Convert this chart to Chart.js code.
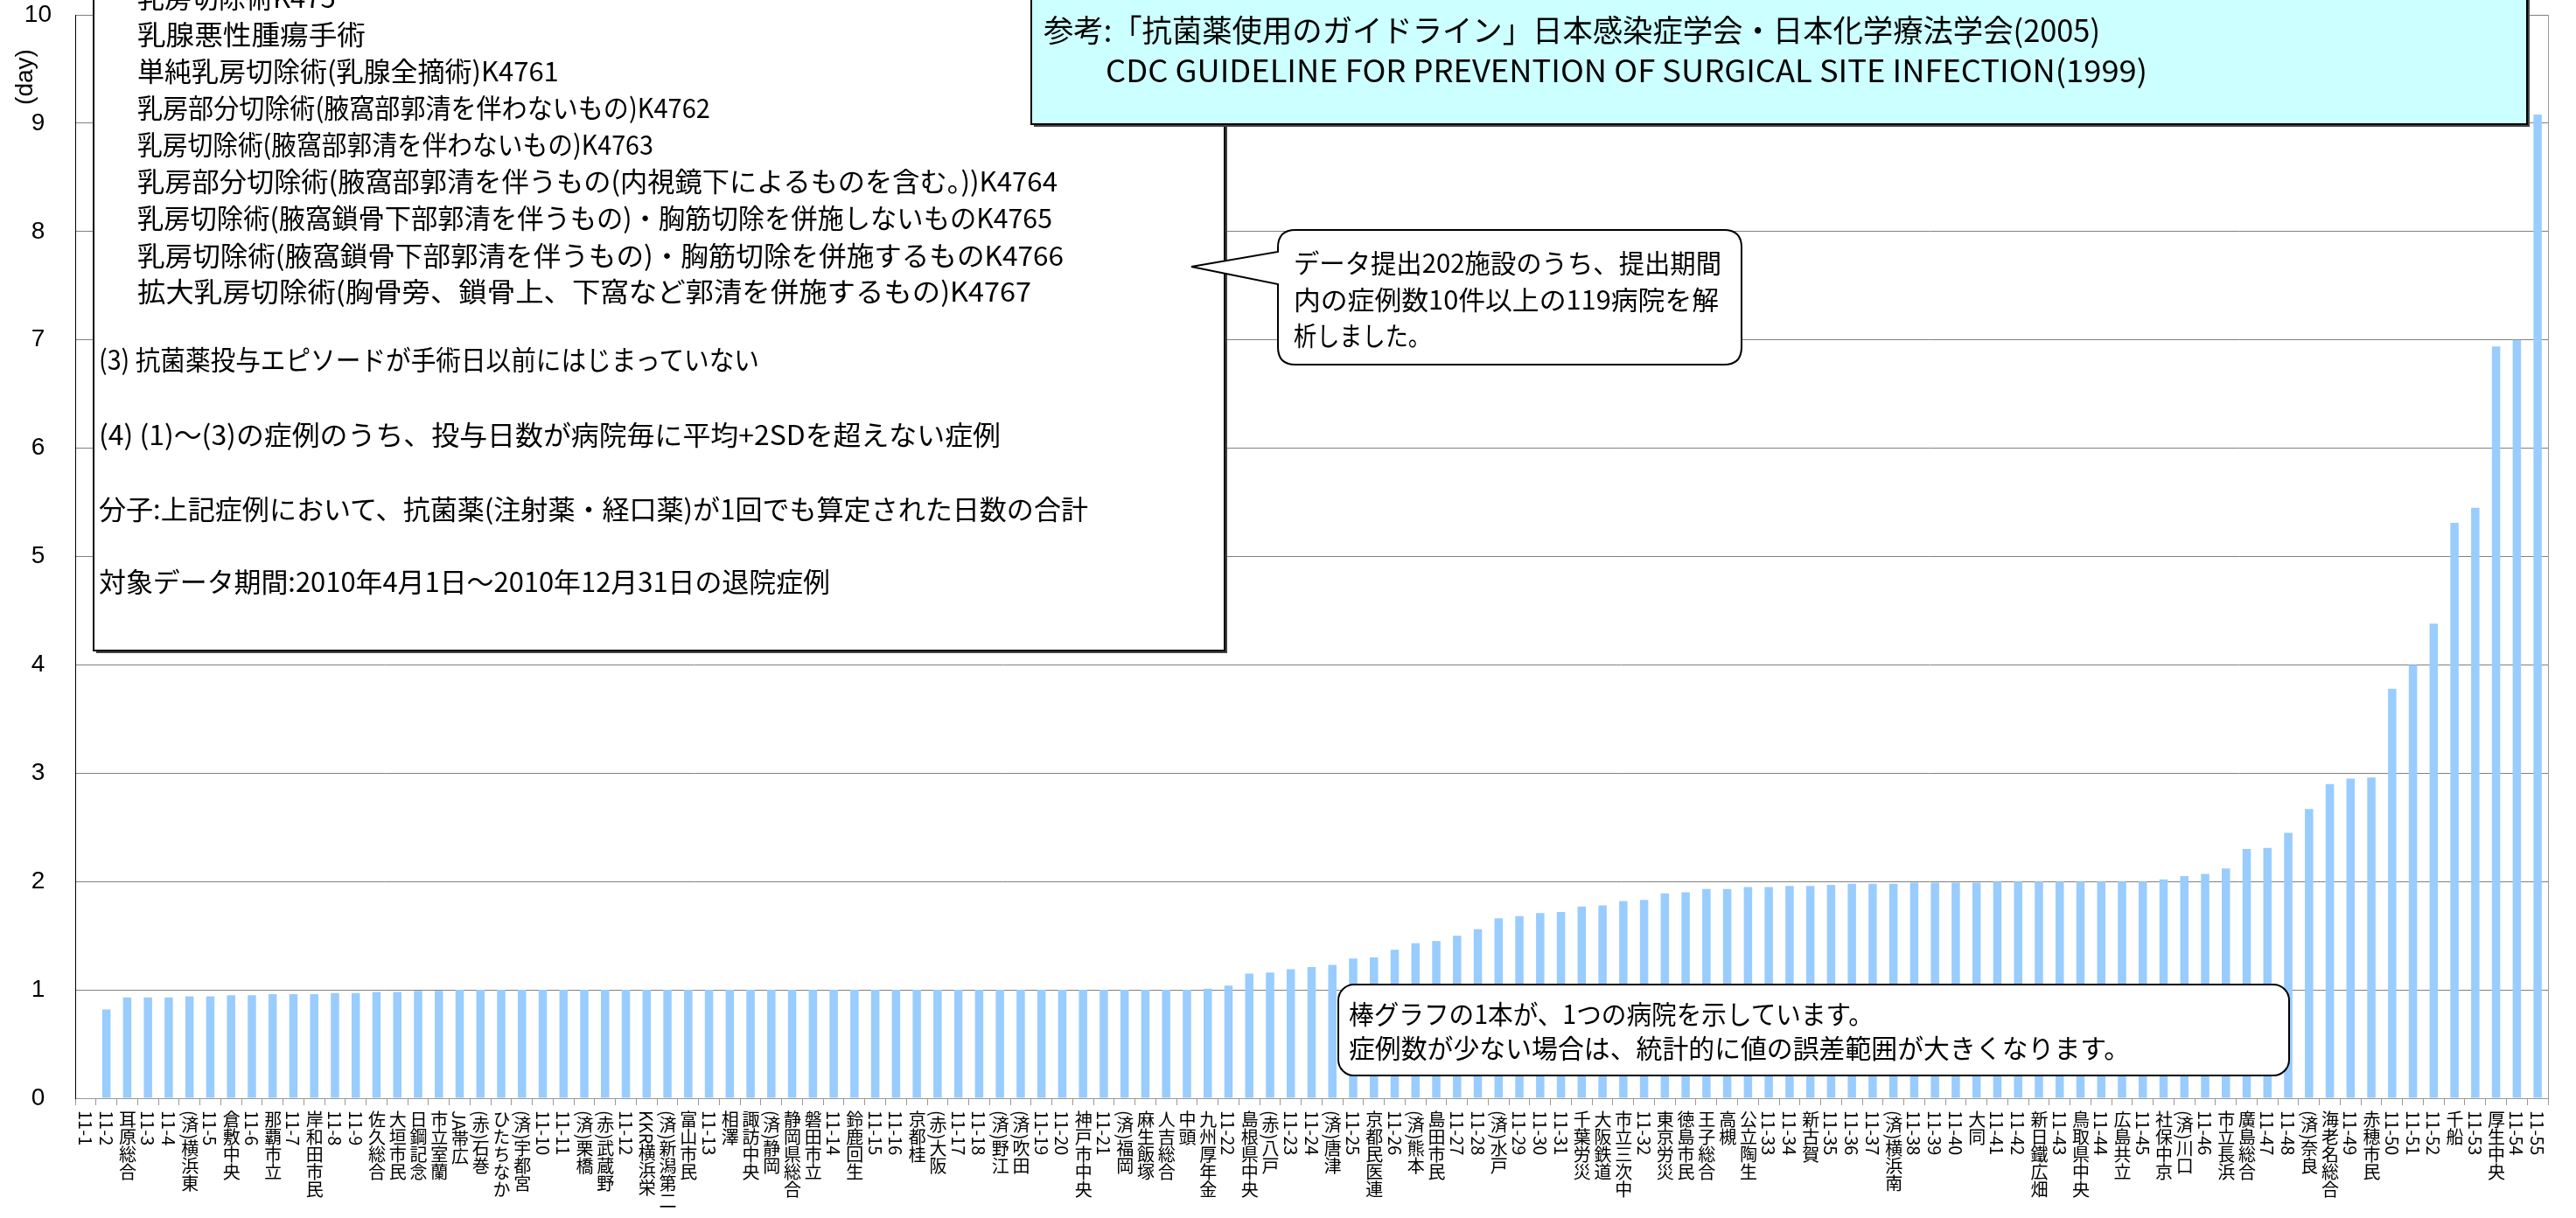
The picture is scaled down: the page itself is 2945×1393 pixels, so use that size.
<!DOCTYPE html>
<html><head><meta charset="utf-8">
<script src="https://cdn.jsdelivr.net/npm/chart.js@4.4.1/dist/chart.umd.min.js"></script>
<style>
html,body{margin:0;padding:0;background:#fff;}
#wrap{position:relative;width:2945px;height:1393px;overflow:hidden;background:#fff;}
#c{position:absolute;left:0;top:0;}
#ov{position:absolute;left:0;top:0;}
.xl{position:absolute;writing-mode:vertical-rl;text-orientation:mixed;font-family:"Noto Sans CJK JP";font-size:20px;line-height:24px;width:24px;color:#000;white-space:nowrap;}
.t{font-family:"Noto Sans CJK JP";fill:#000;}
</style></head><body>
<div id="wrap">
<canvas id="c" width="2945" height="1393"></canvas>
<svg id="ov" width="2945" height="1393" xmlns="http://www.w3.org/2000/svg">
  <!-- y axis title -->
  <text transform="translate(27,88) rotate(-90)" text-anchor="middle" dominant-baseline="central" font-family="Liberation Sans" font-size="28" fill="#000">(day)</text>

  <!-- left definition box -->
  <rect x="110" y="-37" width="1293" height="784" fill="#444"/>
  <rect x="107" y="-40" width="1293" height="784" fill="#fff" stroke="#000" stroke-width="2"/>
  <g font-size="31">
    <text class="t" x="157" y="-5" dominant-baseline="central">乳房切除術K475</text>
    <text class="t" x="157" y="37" dominant-baseline="central" textLength="261" lengthAdjust="spacingAndGlyphs">乳腺悪性腫瘍手術</text>
    <text class="t" x="157" y="79" dominant-baseline="central">単純乳房切除術(乳腺全摘術)K4761</text>
    <text class="t" x="157" y="121" dominant-baseline="central" textLength="655" lengthAdjust="spacingAndGlyphs">乳房部分切除術(腋窩部郭清を伴わないもの)K4762</text>
    <text class="t" x="157" y="163" dominant-baseline="central" textLength="590" lengthAdjust="spacingAndGlyphs">乳房切除術(腋窩部郭清を伴わないもの)K4763</text>
    <text class="t" x="157" y="205" dominant-baseline="central" textLength="1052" lengthAdjust="spacingAndGlyphs">乳房部分切除術(腋窩部郭清を伴うもの(内視鏡下によるものを含む。))K4764</text>
    <text class="t" x="157" y="247" dominant-baseline="central" textLength="1046" lengthAdjust="spacingAndGlyphs">乳房切除術(腋窩鎖骨下部郭清を伴うもの)・胸筋切除を併施しないものK4765</text>
    <text class="t" x="157" y="290" dominant-baseline="central" textLength="1059" lengthAdjust="spacingAndGlyphs">乳房切除術(腋窩鎖骨下部郭清を伴うもの)・胸筋切除を併施するものK4766</text>
    <text class="t" x="157" y="331" dominant-baseline="central" textLength="1022" lengthAdjust="spacingAndGlyphs">拡大乳房切除術(胸骨旁、鎖骨上、下窩など郭清を併施するもの)K4767</text>
    <text class="t" x="113" y="409" dominant-baseline="central" textLength="755" lengthAdjust="spacingAndGlyphs">(3) 抗菌薬投与エピソードが手術日以前にはじまっていない</text>
    <text class="t" x="113" y="495" dominant-baseline="central" textLength="1031" lengthAdjust="spacingAndGlyphs">(4) (1)～(3)の症例のうち、投与日数が病院毎に平均+2SDを超えない症例</text>
    <text class="t" x="113" y="580" dominant-baseline="central" textLength="1131" lengthAdjust="spacingAndGlyphs">分子:上記症例において、抗菌薬(注射薬・経口薬)が1回でも算定された日数の合計</text>
    <text class="t" x="113" y="663" dominant-baseline="central" textLength="836" lengthAdjust="spacingAndGlyphs">対象データ期間:2010年4月1日～2010年12月31日の退院症例</text>
  </g>

  <!-- reference box -->
  <rect x="1182" y="-7" width="1710" height="152" fill="#444"/>
  <rect x="1179" y="-10" width="1710" height="152" fill="#CCFFFF" stroke="#000" stroke-width="2"/>
  <text class="t" x="1193" y="32" font-size="35" dominant-baseline="central" textLength="1208" lengthAdjust="spacingAndGlyphs">参考:「抗菌薬使用のガイドライン」日本感染症学会・日本化学療法学会(2005)</text>
  <text class="t" x="1264" y="78" font-size="35" dominant-baseline="central" textLength="1191" lengthAdjust="spacingAndGlyphs">CDC GUIDELINE FOR PREVENTION OF SURGICAL SITE INFECTION(1999)</text>

  <!-- callout 1 -->
  <path d="M1481 263 H1971 Q1991 263 1991 283 V397 Q1991 417 1971 417 H1481 Q1461 417 1461 397 V325 L1362 305 L1461 288 V283 Q1461 263 1481 263 Z" fill="#fff" stroke="#000" stroke-width="2"/>
  <text class="t" x="1479" y="299" font-size="30" dominant-baseline="central" textLength="489" lengthAdjust="spacingAndGlyphs">データ提出202施設のうち、提出期間</text>
  <text class="t" x="1479" y="341" font-size="30" dominant-baseline="central" textLength="486" lengthAdjust="spacingAndGlyphs">内の症例数10件以上の119病院を解</text>
  <text class="t" x="1479" y="382" font-size="30" dominant-baseline="central" textLength="157" lengthAdjust="spacingAndGlyphs">析しました。</text>

  <!-- callout 2 -->
  <rect x="1530" y="1126" width="1087" height="104" rx="18" ry="18" fill="#fff" stroke="#000" stroke-width="2"/>
  <text class="t" x="1542" y="1158" font-size="30" dominant-baseline="central" textLength="600" lengthAdjust="spacingAndGlyphs">棒グラフの1本が、1つの病院を示しています。</text>
  <text class="t" x="1542" y="1197" font-size="30" dominant-baseline="central" textLength="893" lengthAdjust="spacingAndGlyphs">症例数が少ない場合は、統計的に値の誤差範囲が大きくなります。</text>
</svg>
<div id="xlabels"></div>
</div>
<script>
const categories = [
 "11-1","11-2","耳原総合","11-3","11-4","(済)横浜東","11-5","倉敷中央","11-6","那覇市立",
 "11-7","岸和田市民","11-8","11-9","佐久総合","大垣市民","日鋼記念","市立室蘭","JA帯広","(赤)石巻",
 "ひたちなか","(済)宇都宮","11-10","11-11","(済)栗橋","(赤)武蔵野","11-12","KKR横浜栄","(済)新潟第二","富山市民",
 "11-13","相澤","諏訪中央","(済)静岡","静岡県総合","磐田市立","11-14","鈴鹿回生","11-15","11-16",
 "京都桂","(赤)大阪","11-17","11-18","(済)野江","(済)吹田","11-19","11-20","神戸市中央","11-21",
 "(済)福岡","麻生飯塚","人吉総合","中頭","九州厚年金","11-22","島根県中央","(赤)八戸","11-23","11-24",
 "(済)唐津","11-25","京都民医連","11-26","(済)熊本","島田市民","11-27","11-28","(済)水戸","11-29",
 "11-30","11-31","千葉労災","大阪鉄道","市立三次中","11-32","東京労災","徳島市民","王子総合","高槻",
 "公立陶生","11-33","11-34","新古賀","11-35","11-36","11-37","(済)横浜南","11-38","11-39",
 "11-40","大同","11-41","11-42","新日鐵広畑","11-43","鳥取県中央","11-44","広島共立","11-45",
 "社保中京","(済)川口","11-46","市立長浜","廣島総合","11-47","11-48","(済)奈良","海老名総合","11-49",
 "赤穂市民","11-50","11-51","11-52","千船","11-53","厚生中央","11-54","11-55"
];
const days = [
 0, 0.82, 0.93, 0.93, 0.93, 0.94, 0.94, 0.95, 0.95, 0.96,
 0.96, 0.96, 0.97, 0.97, 0.98, 0.98, 0.99, 0.99, 1.00, 1.00,
 1.00, 1.00, 1.00, 1.00, 1.00, 1.00, 1.00, 1.00, 1.00, 1.00,
 1.00, 1.00, 1.00, 1.00, 1.00, 1.00, 1.00, 1.00, 1.00, 1.00,
 1.00, 1.00, 1.00, 1.00, 1.00, 1.00, 1.00, 1.00, 1.00, 1.00,
 1.00, 1.00, 1.00, 1.00, 1.01, 1.04, 1.15, 1.16, 1.19, 1.21,
 1.23, 1.29, 1.30, 1.37, 1.43, 1.45, 1.50, 1.56, 1.66, 1.68,
 1.71, 1.72, 1.77, 1.78, 1.82, 1.83, 1.89, 1.90, 1.93, 1.93,
 1.95, 1.95, 1.96, 1.96, 1.97, 1.98, 1.98, 1.98, 1.99, 1.99,
 1.99, 1.99, 2.00, 2.00, 2.00, 2.00, 2.00, 2.00, 2.00, 2.00,
 2.02, 2.05, 2.07, 2.12, 2.30, 2.31, 2.45, 2.67, 2.90, 2.95,
 2.96, 3.78, 4.00, 4.38, 5.31, 5.45, 6.94, 7.00, 9.08
];
const yTickLabels = ["0","1","2","3","4","5","6","7","8","9","10"];

const frame = {
  id: 'frame',
  afterDraw(chart) {
    const {ctx, chartArea: a} = chart;
    ctx.save();
    ctx.strokeStyle = '#999999';
    ctx.lineWidth = 1;
    ctx.beginPath();
    ctx.moveTo(Math.round(a.right) + 0.5, a.top);
    ctx.lineTo(Math.round(a.right) + 0.5, a.bottom);
    ctx.stroke();
    ctx.restore();
  }
};

const chart = new Chart(document.getElementById('c'), {
  type: 'bar',
  data: {
    labels: categories,
    datasets: [{
      data: days,
      backgroundColor: '#99CCFF',
      borderWidth: 0,
      barPercentage: 0.4,
      categoryPercentage: 1.0
    }]
  },
  options: {
    responsive: false,
    devicePixelRatio: 1,
    animation: false,
    layout: { padding: { top: 17, right: 32, left: 0, bottom: 0 } },
    plugins: { legend: { display: false }, tooltip: { enabled: false } },
    scales: {
      x: {
        grid: { drawOnChartArea: false, drawTicks: true, tickLength: 8, color: '#999999', offset: true },
        border: { color: '#999999', width: 1 },
        ticks: { display: false },
        afterFit(s) { s.height = 137; }
      },
      y: {
        min: 0, max: 10,
        ticks: {
          stepSize: 1, padding: 0, color: '#000', crossAlign: 'center',
          font: { family: 'Liberation Sans', size: 28 },
          callback: (v, i) => yTickLabels[i]
        },
        grid: { color: '#808080', lineWidth: 1, drawTicks: true, tickLength: 27, tickColor: 'rgba(0,0,0,0)' },
        border: { color: '#000', width: 1 },
        afterFit(s) { s.width = 86; }
      }
    }
  },
  plugins: [frame]
});

const holder = document.getElementById('xlabels');
categories.forEach((lab, i) => {
  const d = document.createElement('div');
  d.className = 'xl';
  d.textContent = lab;
  const x = chart.scales.x.getPixelForValue(i);
  d.style.left = (x - 12) + 'px';
  d.style.top = '1270px';
  holder.appendChild(d);
});
</script>
</body></html>
